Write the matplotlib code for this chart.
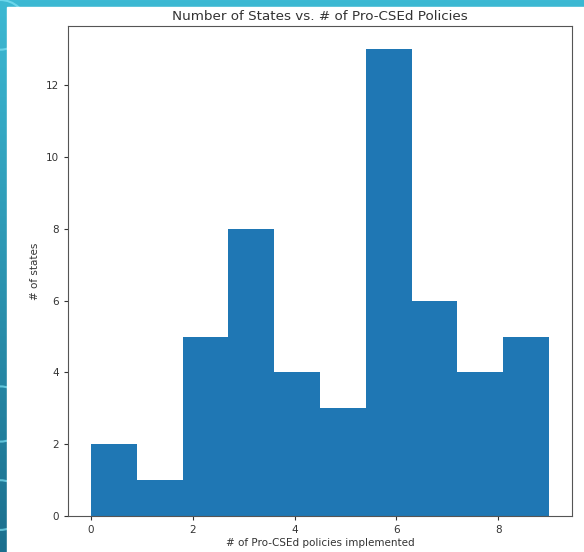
import numpy as np
import matplotlib
matplotlib.use("Agg")
import matplotlib.pyplot as plt
from matplotlib.patches import Rectangle, Circle

# histogram of # of pro-CSEd policies per state
bin_edges = np.linspace(0, 9, 11)
state_counts = [2, 1, 5, 8, 4, 3, 13, 6, 4, 5]
x_ticks = [0, 2, 4, 6, 8]
y_ticks = [0, 2, 4, 6, 8, 10, 12]

fig = plt.figure(figsize=(5.84, 5.52), dpi=100)

# teal slide background with white notebook area
bg = fig.add_axes([0, 0, 1, 1])
grad = np.linspace(0, 1, 256).reshape(-1, 1)
cmap = matplotlib.colors.LinearSegmentedColormap.from_list("bg", ["#3cb9d3", "#1b6f8e"])
bg.imshow(grad, aspect="auto", cmap=cmap, extent=[0, 1, 0, 1], origin="upper")
for cy, r in [(0.955, 0.045), (0.25, 0.05), (0.085, 0.045)]:
    bg.add_patch(Circle((0.0, cy), r, fill=False, ec="#7fe3f5", lw=1.5, alpha=0.7))
bg.add_patch(Rectangle((7 / 584, 0), 1, 1 - 7 / 552, color="white", zorder=5))
bg.set_xlim(0, 1)
bg.set_ylim(0, 1)
bg.axis("off")

ax = fig.add_axes([68 / 584, 36 / 552, 504 / 584, 490 / 552])
centers = (bin_edges[:-1] + bin_edges[1:]) / 2
ax.hist(centers, bins=bin_edges, weights=state_counts, color="#1f77b4")
ax.set_xticks(x_ticks)
ax.set_yticks(y_ticks)
ax.tick_params(labelsize=7.5, colors="#333333", length=3)
for s in ax.spines.values():
    s.set_color("#555555")
ax.set_title("Number of States vs. # of Pro-CSEd Policies", fontsize=9.7, color="#333333", pad=4)
ax.set_xlabel("# of Pro-CSEd policies implemented", fontsize=7.5, color="#333333", labelpad=2)
ax.set_ylabel("# of states", fontsize=7.5, color="#333333", labelpad=4)

fig.savefig("out.png", dpi=100)
